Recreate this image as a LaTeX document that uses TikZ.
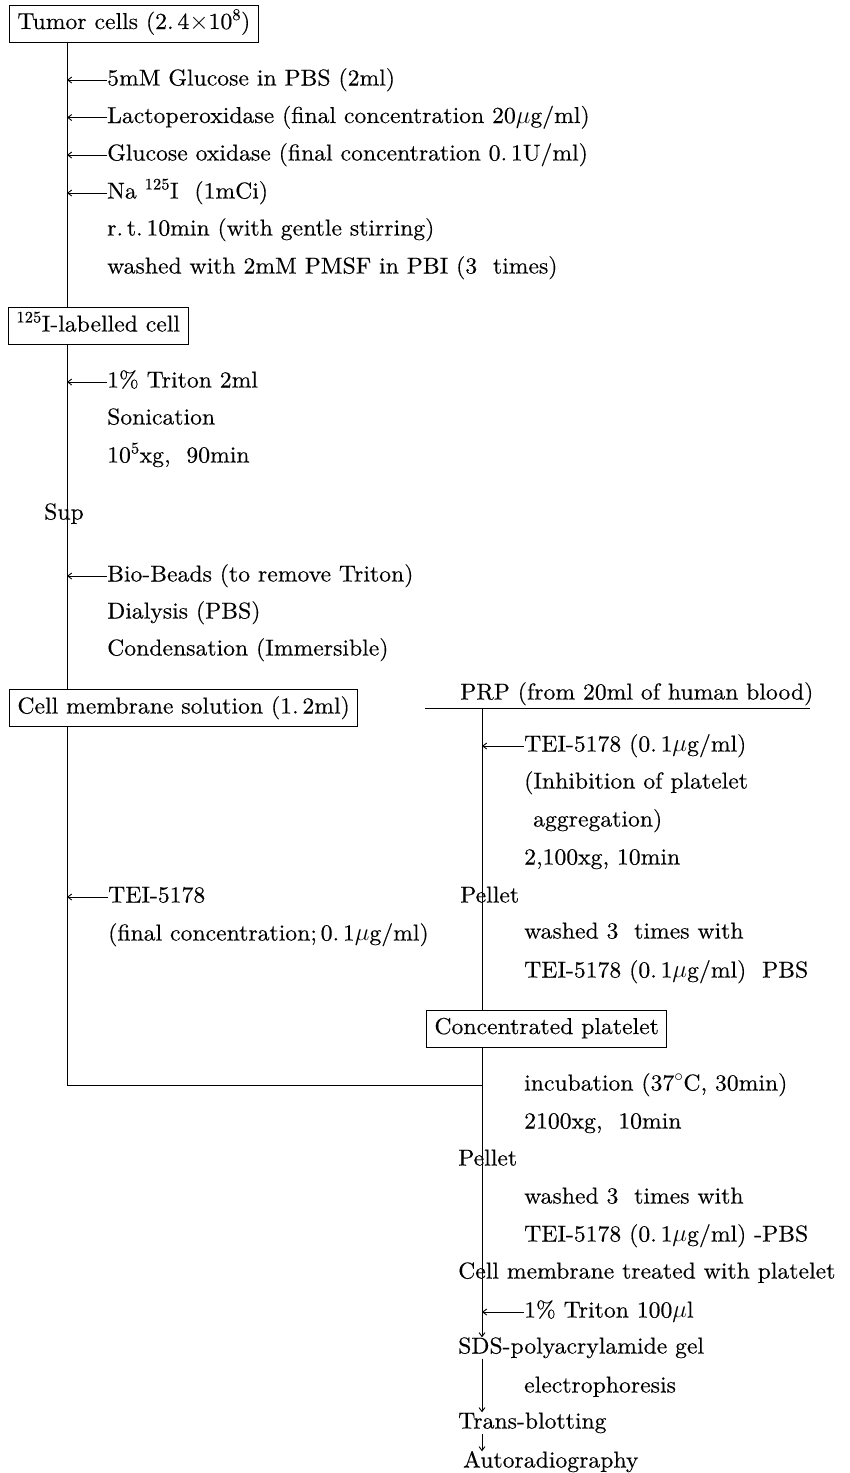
\documentclass[tikz,border=0pt]{standalone}
\usepackage{fontspec}
\setmainfont{lmroman10-regular}[Extension=.otf,FakeStretch=1.03,WordSpace=1.0,FakeBold=0.3]
\usetikzlibrary{arrows.meta}
\begin{document}
\begin{tikzpicture}[x=1pt,y=-1pt,
  every node/.style={font=\fontsize{23}{27}\selectfont},
  txt/.style={anchor=west,inner sep=0pt,text height=16pt,text depth=5pt},
  stage/.style={draw,line width=0.9pt,anchor=west,inner xsep=8pt,inner ysep=0pt,
                minimum height=37pt,text height=16pt,text depth=5pt},
  trunk/.style={line width=0.9pt},
  add/.style={line width=0.9pt,-{Straight Barb[length=4pt,width=6pt]}},
  flow/.style={line width=0.9pt,-{Straight Barb[length=4pt,width=6pt]}}]
\useasboundingbox (0,0) rectangle (849,1473);

% vertical trunks
\coordinate (lx) at (67,0);
\coordinate (rx) at (482,0);

% ---------- left column ----------
\node[stage] (tumor) at (9,23.5) {Tumor cells (2.\,4$\times$10\textsuperscript{8})};
\node[txt] (glc)  at (107,80)  {5mM Glucose in PBS (2ml)};
\node[txt] (lpo)  at (107,117.5) {Lactoperoxidase (final concentration 20$\mu$g/ml)};
\node[txt] (gox)  at (107,155) {Glucose oxidase (final concentration 0.\,1U/ml)};
\node[txt] (nai)  at (107,193) {Na \textsuperscript{125}I\ \ (1mCi)};
\node[txt] (rt)   at (107,230) {r.\,t.\,10min (with gentle stirring)};
\node[txt] (wash1) at (107,268) {washed with 2mM PMSF in PBI (3\ \ times)};

\node[stage] (lab) at (8,326) {\textsuperscript{125}I-labelled cell};
\node[txt] (tri)  at (107,382) {1\% Triton 2ml};
\node[txt] (son)  at (107,419) {Sonication};
\node[txt] (cen1) at (107,457) {10\textsuperscript{5}xg,\ \ 90min};
\node[txt] (sup)  at (44,514)  {Sup};
\node[txt] (bio)  at (107,576) {Bio-Beads (to remove Triton)};
\node[txt] (dia)  at (107,613) {Dialysis (PBS)};
\node[txt] (con)  at (107,650) {Condensation (Immersible)};

\node[stage] (cms) at (9,708) {Cell membrane solution (1.\,2ml)};
\node[txt] (tei2) at (108,897) {TEI-5178};
\node[txt] (fin)  at (108,935) {(final concentration;\,0.\,1$\mu$g/ml)};

% ---------- right column ----------
\node[txt] (prp) at (460,694) {PRP (from 20ml of human blood)};
\coordinate (prpL) at (425,708);
\coordinate (prpR) at (810,708);
\node[txt] (tei1) at (524,746) {TEI-5178 (0.\,1$\mu$g/ml)};
\node[txt] (inh)  at (524,783) {(Inhibition of platelet};
\node[txt] (agg)  at (533,821) {aggregation)};
\node[txt] (cen2) at (524,859) {2,100xg, 10min};
\node[txt] (pel1) at (460,897) {Pellet};
\node[txt] (wash2) at (524,933) {washed 3\ \ times with};
\node[txt] (pbs1) at (524,972) {TEI-5178 (0.\,1$\mu$g/ml)\ \ PBS};
\node[stage] (conc) at (426,1028.5) {Concentrated platelet};

\coordinate (join) at (482,1085);
\node[txt] (inc)  at (524,1085) {incubation (37$^{\circ}$C, 30min)};
\node[txt] (cen3) at (524,1123) {2100xg,\ \ 10min};
\node[txt] (pel2) at (458,1160) {Pellet};
\node[txt] (wash3) at (524,1198) {washed 3\ \ times with};
\node[txt] (pbs2) at (524,1236) {TEI-5178 (0.\,1$\mu$g/ml) -PBS};
\node[txt] (cmt)  at (458,1273) {Cell membrane treated with platelet};
\node[txt] (tri2) at (524,1312) {1\% Triton 100$\mu$l};
\node[txt] (sds)  at (458,1348) {SDS-polyacrylamide gel};
\node[txt] (elp)  at (524,1387) {electrophoresis};
\node[txt] (tb)   at (458,1423) {Trans-blotting};
\node[txt] (ar)   at (463,1462) {Autoradiography};

% ---------- connectors ----------
\draw[trunk] (tumor.south -| lx) -- (lab.north -| lx);
\draw[trunk] (lab.south -| lx) -- (cms.north -| lx);
\draw[trunk] (cms.south -| lx) |- (join);

\draw[trunk] (prpL) -- (prpR);
\draw[trunk] (prpL -| rx) -- (conc.north -| rx);
\draw[flow] (conc.south -| rx) -- (sds.north -| rx);
\draw[flow] (sds.south -| rx) -- (tb.north -| rx);
\draw[flow] (tb.south -| rx) -- (ar.north -| rx);

\foreach \n in {glc,lpo,gox,nai,tri,bio,tei2}
  \draw[add] (\n.west) -- (\n.west -| lx);
\foreach \n in {tei1,tri2}
  \draw[add] (\n.west) -- (\n.west -| rx);
\end{tikzpicture}
\end{document}
